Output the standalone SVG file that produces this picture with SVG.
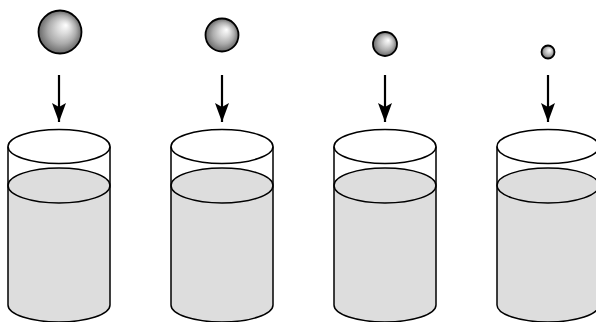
<svg xmlns="http://www.w3.org/2000/svg" width="596" height="322" viewBox="0 0 596 322">
  <defs>
    <radialGradient id="ballGrad" cx="0.5" cy="0.5" r="0.5" fx="0.64" fy="0.34">
      <stop offset="0" stop-color="#ffffff"/>
      <stop offset="0.3" stop-color="#dcdcdc"/>
      <stop offset="0.65" stop-color="#acacac"/>
      <stop offset="1" stop-color="#686868"/>
    </radialGradient>
    <marker id="arrowHead" markerUnits="userSpaceOnUse" markerWidth="20" markerHeight="16" refX="19" refY="7" orient="auto">
      <path d="M0,0 L19,7 L0,14 L4,7 Z" fill="#000"/>
    </marker>
    <style>
      .ball { fill: url(#ballGrad); stroke: #000; stroke-width: 1.8; }
      .water { fill: #dddddd; stroke: none; }
      .surface { fill: #dddddd; stroke: #000; stroke-width: 1.5; }
      .edge { fill: none; stroke: #000; stroke-width: 1.5; }
      .arrow { stroke: #000; stroke-width: 2.2; fill: none; }
    </style>
  </defs>

  <g id="ball1"><circle class="ball" cx="60" cy="32" r="21.5"/></g>
  <g id="ball2"><circle class="ball" cx="222" cy="35" r="16.5"/></g>
  <g id="ball3"><circle class="ball" cx="385" cy="44" r="12"/></g>
  <g id="ball4"><circle class="ball" cx="548" cy="52" r="6.5"/></g>

  <g id="glass1">
    <path class="water" d="M8,185.5 V305 A51,17 0 0 0 110,305 V185.5 Z"/>
    <ellipse class="surface" cx="59" cy="185.5" rx="51" ry="17.5"/>
    <path class="edge" d="M8,146.5 V305 A51,17 0 0 0 110,305 V146.5"/>
    <ellipse class="edge" cx="59" cy="146.5" rx="51" ry="17"/>
  </g>
  <g id="glass2">
    <path class="water" d="M171,185.5 V305 A51,17 0 0 0 273,305 V185.5 Z"/>
    <ellipse class="surface" cx="222" cy="185.5" rx="51" ry="17.5"/>
    <path class="edge" d="M171,146.5 V305 A51,17 0 0 0 273,305 V146.5"/>
    <ellipse class="edge" cx="222" cy="146.5" rx="51" ry="17"/>
  </g>
  <g id="glass3">
    <path class="water" d="M334,185.5 V305 A51,17 0 0 0 436,305 V185.5 Z"/>
    <ellipse class="surface" cx="385" cy="185.5" rx="51" ry="17.5"/>
    <path class="edge" d="M334,146.5 V305 A51,17 0 0 0 436,305 V146.5"/>
    <ellipse class="edge" cx="385" cy="146.5" rx="51" ry="17"/>
  </g>
  <g id="glass4">
    <path class="water" d="M497,185.5 V305 A51,17 0 0 0 599,305 V185.5 Z"/>
    <ellipse class="surface" cx="548" cy="185.5" rx="51" ry="17.5"/>
    <path class="edge" d="M497,146.5 V305 A51,17 0 0 0 599,305 V146.5"/>
    <ellipse class="edge" cx="548" cy="146.5" rx="51" ry="17"/>
  </g>

  <g id="connectors">
    <line class="arrow" x1="59" y1="75" x2="59" y2="122" marker-end="url(#arrowHead)"/>
    <line class="arrow" x1="222" y1="75" x2="222" y2="122" marker-end="url(#arrowHead)"/>
    <line class="arrow" x1="385" y1="75" x2="385" y2="122" marker-end="url(#arrowHead)"/>
    <line class="arrow" x1="548" y1="75" x2="548" y2="122" marker-end="url(#arrowHead)"/>
  </g>
</svg>
